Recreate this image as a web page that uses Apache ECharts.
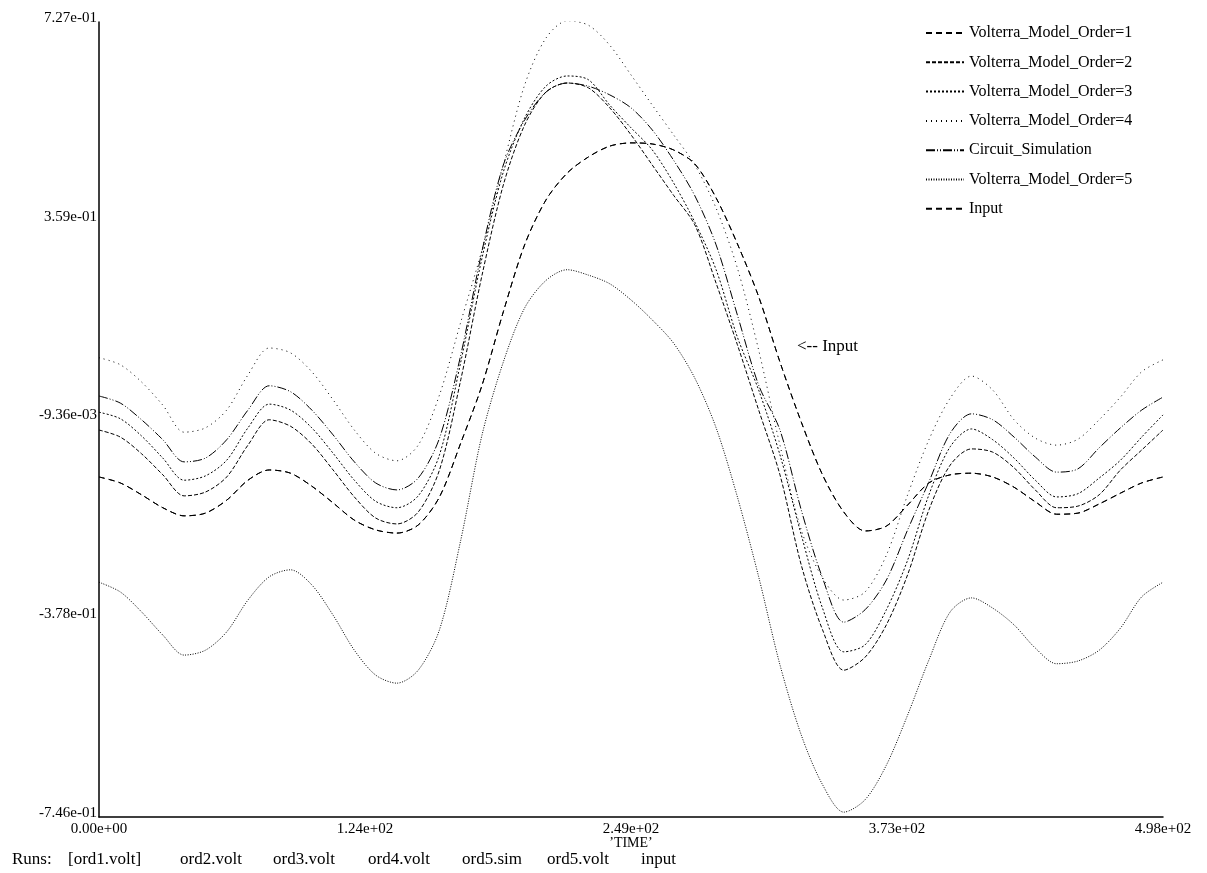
<!DOCTYPE html>
<html>
<head>
<meta charset="utf-8">
<title>Volterra model orders vs circuit simulation</title>
<script src="https://cdn.jsdelivr.net/npm/echarts@6/dist/echarts.min.js"></script>
<style>
  html, body { margin: 0; padding: 0; background: #fff; }
  #chart { width: 1207px; height: 873px; }
</style>
</head>
<body>
<div id="chart"></div>
<script>
// Sample times shared by every trace
const time = [0, 9.96, 19.92, 29.88, 39.84, 49.8, 59.76, 69.72, 79.68, 89.64,
  99.6, 109.56, 119.52, 129.48, 139.44, 149.4, 159.36, 169.32, 179.28, 189.24,
  199.2, 209.16, 219.12, 229.08, 239.04, 249, 258.96, 268.92, 278.88, 288.84,
  298.8, 308.76, 318.72, 328.68, 338.64, 348.6, 358.56, 368.52, 378.48, 388.44,
  398.4, 408.36, 418.32, 428.28, 438.24, 448.2, 458.16, 468.12, 478.08, 488.04, 498];

// Input waveform (the first-order model follows it)
const input = [-0.116, -0.127, -0.149, -0.173, -0.188, -0.183, -0.159, -0.122, -0.103, -0.109,
  -0.133, -0.164, -0.196, -0.214, -0.220, -0.205, -0.153, -0.053, 0.054, 0.190,
  0.314, 0.397, 0.447, 0.477, 0.497, 0.503, 0.501, 0.490, 0.464, 0.401,
  0.316, 0.218, 0.097, -0.014, -0.112, -0.181, -0.216, -0.207, -0.168, -0.127,
  -0.112, -0.109, -0.116, -0.135, -0.162, -0.185, -0.183, -0.166, -0.146, -0.127, -0.116];
const order1 = input.slice();

const order2 = [-0.029, -0.042, -0.073, -0.112, -0.151, -0.144, -0.116, -0.057, -0.010, -0.022,
  -0.055, -0.103, -0.153, -0.192, -0.203, -0.181, -0.103, 0.064, 0.258, 0.425,
  0.536, 0.597, 0.614, 0.605, 0.568, 0.518, 0.462, 0.406, 0.351, 0.243,
  0.129, 0.008, -0.112, -0.279, -0.399, -0.474, -0.450, -0.390, -0.297, -0.177,
  -0.094, -0.064, -0.070, -0.099, -0.140, -0.173, -0.170, -0.149, -0.103, -0.066, -0.029];

const order3 = [0.004, -0.008, -0.040, -0.081, -0.122, -0.114, -0.085, -0.025, 0.019, 0.008,
  -0.025, -0.072, -0.122, -0.161, -0.173, -0.151, -0.075, 0.097, 0.290, 0.449,
  0.549, 0.608, 0.627, 0.620, 0.573, 0.531, 0.490, 0.429, 0.356, 0.268,
  0.143, 0.045, -0.075, -0.223, -0.359, -0.440, -0.427, -0.362, -0.270, -0.149,
  -0.060, -0.027, -0.047, -0.081, -0.122, -0.153, -0.147, -0.118, -0.085, -0.042, -0.001];

const order4 = [0.105, 0.092, 0.060, 0.017, -0.033, -0.025, 0.008, 0.073, 0.123, 0.114,
  0.079, 0.027, -0.029, -0.072, -0.086, -0.057, 0.036, 0.171, 0.305, 0.462,
  0.610, 0.697, 0.729, 0.721, 0.684, 0.629, 0.573, 0.518, 0.462, 0.382,
  0.271, 0.119, -0.057, -0.214, -0.303, -0.344, -0.329, -0.261, -0.149, -0.047,
  0.030, 0.071, 0.045, -0.010, -0.044, -0.057, -0.046, -0.010, 0.032, 0.079, 0.101];

const circuit = [0.034, 0.021, -0.010, -0.047, -0.088, -0.081, -0.047, 0.008, 0.053, 0.042,
  0.008, -0.038, -0.088, -0.127, -0.140, -0.118, -0.044, 0.110, 0.303, 0.462,
  0.545, 0.597, 0.614, 0.608, 0.592, 0.568, 0.527, 0.471, 0.405, 0.314,
  0.184, 0.054, -0.029, -0.177, -0.303, -0.385, -0.362, -0.307, -0.214, -0.125,
  -0.035, 0.001, -0.010, -0.042, -0.079, -0.107, -0.101, -0.062, -0.025, 0.008, 0.032];

const order5 = [-0.311, -0.329, -0.366, -0.409, -0.446, -0.437, -0.403, -0.344, -0.301, -0.288,
  -0.316, -0.372, -0.437, -0.483, -0.498, -0.474, -0.399, -0.233, -0.038, 0.097,
  0.197, 0.248, 0.268, 0.258, 0.242, 0.212, 0.175, 0.132, 0.067, -0.025,
  -0.153, -0.301, -0.464, -0.594, -0.686, -0.737, -0.714, -0.650, -0.557, -0.455,
  -0.366, -0.340, -0.359, -0.390, -0.433, -0.462, -0.457, -0.437, -0.396, -0.338, -0.311];

// Axis ticks
const xTickValues = [0, 124.5, 249, 373.5, 498];
const xTickLabels = ['0.00e+00', '1.24e+02', '2.49e+02', '3.73e+02', '4.98e+02'];
const yTickValues = [-0.746, -0.378, -0.00936, 0.359, 0.727];
const yTickLabels = ['-7.46e-01', '-3.78e-01', '-9.36e-03', '3.59e-01', '7.27e-01'];

// Run list printed under the plot
const runLabels = ['Runs:', '[ord1.volt]', 'ord2.volt', 'ord3.volt', 'ord4.volt', 'ord5.sim', 'ord5.volt', 'input'];
const runX = [12, 68, 180, 273, 368, 462, 547, 641];

const FONT = '"Liberation Serif", "DejaVu Serif", serif';

function pairs(ys) { return ys.map((v, i) => [time[i], v]); }

function trace(name, ys, dash) {
  return {
    name: name,
    type: 'line',
    data: pairs(ys),
    smooth: 0.3,
    symbol: 'none',
    animation: false,
    lineStyle: { color: '#000', width: 1, type: dash },
    itemStyle: { color: '#000' },
    emphasis: { disabled: true }
  };
}

const chart = echarts.init(document.getElementById('chart'), null, { renderer: 'canvas' });

chart.setOption({
  backgroundColor: '#fff',
  animation: false,
  grid: { left: 99, right: 44, top: 22, bottom: 56, containLabel: false },
  legend: {
    orient: 'vertical',
    left: 925,
    top: 23,
    padding: 0,
    itemWidth: 38,
    itemHeight: 14,
    itemGap: 9.3,
    selectedMode: false,
    itemStyle: { opacity: 0 },
    textStyle: { fontFamily: FONT, fontSize: 16, color: '#000', lineHeight: 20 },
    data: ['Volterra_Model_Order=1', 'Volterra_Model_Order=2', 'Volterra_Model_Order=3',
           'Volterra_Model_Order=4', 'Circuit_Simulation', 'Volterra_Model_Order=5', 'Input']
  },
  xAxis: {
    type: 'value',
    min: 0,
    max: 498,
    name: '\u2019TIME\u2019',
    nameLocation: 'middle',
    nameGap: 19,
    nameMoveOverlap: false,
    nameTextStyle: { fontFamily: FONT, fontSize: 14, color: '#000' },
    axisLine: { show: true, onZero: false, lineStyle: { color: '#000', width: 1.5 } },
    axisTick: { show: false },
    splitLine: { show: false },
    axisLabel: {
      customValues: xTickValues,
      margin: 5,
      fontFamily: FONT,
      fontSize: 15,
      color: '#000',
      formatter: v => xTickLabels[xTickValues.indexOf(v)] ?? ''
    }
  },
  yAxis: {
    type: 'value',
    min: -0.746,
    max: 0.727,
    axisLine: { show: true, onZero: false, lineStyle: { color: '#000', width: 1.5 } },
    axisTick: { show: false },
    splitLine: { show: false },
    axisLabel: {
      customValues: yTickValues,
      margin: 2,
      fontFamily: FONT,
      fontSize: 15,
      color: '#000',
      verticalAlign: 'bottom',
      lineHeight: 8,
      formatter: v => yTickLabels[yTickValues.indexOf(v)] ?? ''
    }
  },
  series: [
    trace('Volterra_Model_Order=1', order1, [6, 4]),
    trace('Volterra_Model_Order=2', order2, [4, 2]),
    trace('Volterra_Model_Order=3', order3, [2, 2]),
    trace('Volterra_Model_Order=4', order4, [1, 4]),
    trace('Circuit_Simulation', circuit, [9, 2, 1, 2, 1, 2]),
    trace('Volterra_Model_Order=5', order5, [1, 1.5]),
    trace('Input', input, [6, 4])
  ],
  graphic: [
    {
      type: 'text', left: 797, top: 338, silent: true,
      style: { text: '<-- Input', fontFamily: FONT, fontSize: 17, fill: '#000' }
    }
  ].concat(runLabels.map((t, i) => ({
    type: 'text', left: runX[i], top: 851, silent: true,
    style: { text: t, fontFamily: FONT, fontSize: 17, fill: '#000' }
  })))
});
</script>
</body>
</html>
